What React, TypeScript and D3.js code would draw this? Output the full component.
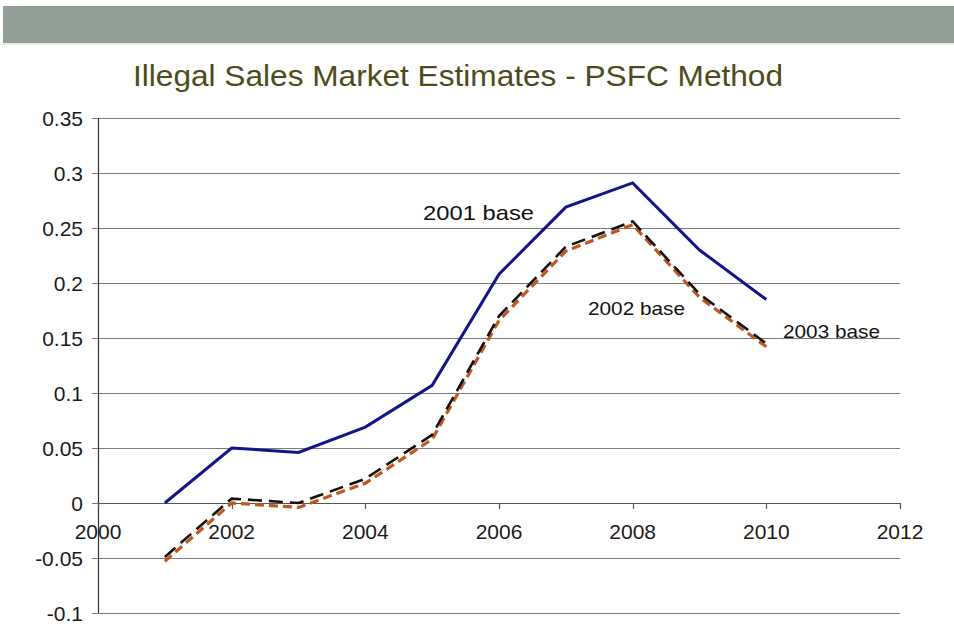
import React from "react";
import * as d3 from "d3";

// Estimated illegal share of sales market, by base year
const years = [2001, 2002, 2003, 2004, 2005, 2006, 2007, 2008, 2009, 2010];
const base2001 = [0.0, 0.05, 0.046, 0.069, 0.107, 0.208, 0.269, 0.291, 0.23, 0.185];
const base2002 = [-0.049, 0.004, 0.0, 0.022, 0.062, 0.17, 0.233, 0.256, 0.19, 0.145];
const base2003 = [-0.053, 0.0, -0.004, 0.018, 0.058, 0.166, 0.229, 0.253, 0.187, 0.142];

const xTicks = [2000, 2002, 2004, 2006, 2008, 2010, 2012];
const yTicks = [-0.1, -0.05, 0, 0.05, 0.1, 0.15, 0.2, 0.25, 0.3, 0.35];
const yTickLabels = ["-0.1", "-0.05", "0", "0.05", "0.1", "0.15", "0.2", "0.25", "0.3", "0.35"];

const title = "Illegal Sales Market Estimates - PSFC Method";
const seriesLabels = ["2001 base", "2002 base", "2003 base"];

export default function App() {
  const W = 954;
  const H = 624;
  const x = d3.scaleLinear().domain([2000, 2012]).range([98, 900]);
  const y = d3.scaleLinear().domain([-0.1, 0.35]).range([613, 118]);

  const line = (vals: number[]) =>
    d3
      .line<number>()
      .x((_, i) => x(years[i]))
      .y((v) => y(v))(vals) as string;

  const font = "Arial, 'Liberation Sans', sans-serif";

  return (
    <svg
      width={W}
      height={H}
      style={{ position: "absolute", left: 0, top: 0, background: "#fff" }}
      fontFamily={font}
    >
      {/* header band */}
      <rect x={3} y={6} width={W - 3} height={37} fill="#929f96" />
      <line x1={3} x2={W} y1={44} y2={44} stroke="#d5dbd7" strokeWidth={1} />

      <text
        x={458}
        y={86}
        textAnchor="middle"
        fontSize={30}
        fill="#4d4b1c"
        textLength={650}
        lengthAdjust="spacingAndGlyphs"
      >
        {title}
      </text>

      {/* horizontal gridlines with left ticks */}
      {yTicks.map((t, i) => (
        <g key={t}>
          <line
            x1={92}
            x2={900}
            y1={Math.round(y(t)) + 0.5}
            y2={Math.round(y(t)) + 0.5}
            stroke="#7a7a7a"
            strokeWidth={1}
          />
          <text x={83} y={y(t) + 7.5} textAnchor="end" fontSize={21} fill="#1a1a1a">
            {yTickLabels[i]}
          </text>
        </g>
      ))}

      {/* y axis */}
      <line x1={98.5} x2={98.5} y1={y(0.35)} y2={y(-0.1)} stroke="#333" strokeWidth={1.2} />

      {/* x axis at zero */}
      <line x1={98} x2={900} y1={Math.round(y(0)) + 0.5} y2={Math.round(y(0)) + 0.5} stroke="#555" strokeWidth={1.2} />
      {xTicks.map((t) => (
        <g key={t}>
          <line
            x1={Math.round(x(t)) + 0.5}
            x2={Math.round(x(t)) + 0.5}
            y1={y(0)}
            y2={y(0) + 6}
            stroke="#555"
            strokeWidth={1.2}
          />
          <text x={x(t)} y={y(0) + 36} textAnchor="middle" fontSize={21} fill="#1a1a1a">
            {t}
          </text>
        </g>
      ))}

      {/* series */}
      <path d={line(base2003)} fill="none" stroke="#c0571f" strokeWidth={3.2} strokeDasharray="9,5" />
      <path d={line(base2002)} fill="none" stroke="#111" strokeWidth={2.6} strokeDasharray="14,7" />
      <path d={line(base2001)} fill="none" stroke="#14148a" strokeWidth={3} />

      {/* series labels */}
      <text x={423} y={220} fontSize={21} fill="#111" textLength={111} lengthAdjust="spacingAndGlyphs">
        {seriesLabels[0]}
      </text>
      <text x={588} y={315} fontSize={19} fill="#111" textLength={97} lengthAdjust="spacingAndGlyphs">
        {seriesLabels[1]}
      </text>
      <text x={783} y={338} fontSize={19} fill="#111" textLength={97} lengthAdjust="spacingAndGlyphs">
        {seriesLabels[2]}
      </text>
    </svg>
  );
}
